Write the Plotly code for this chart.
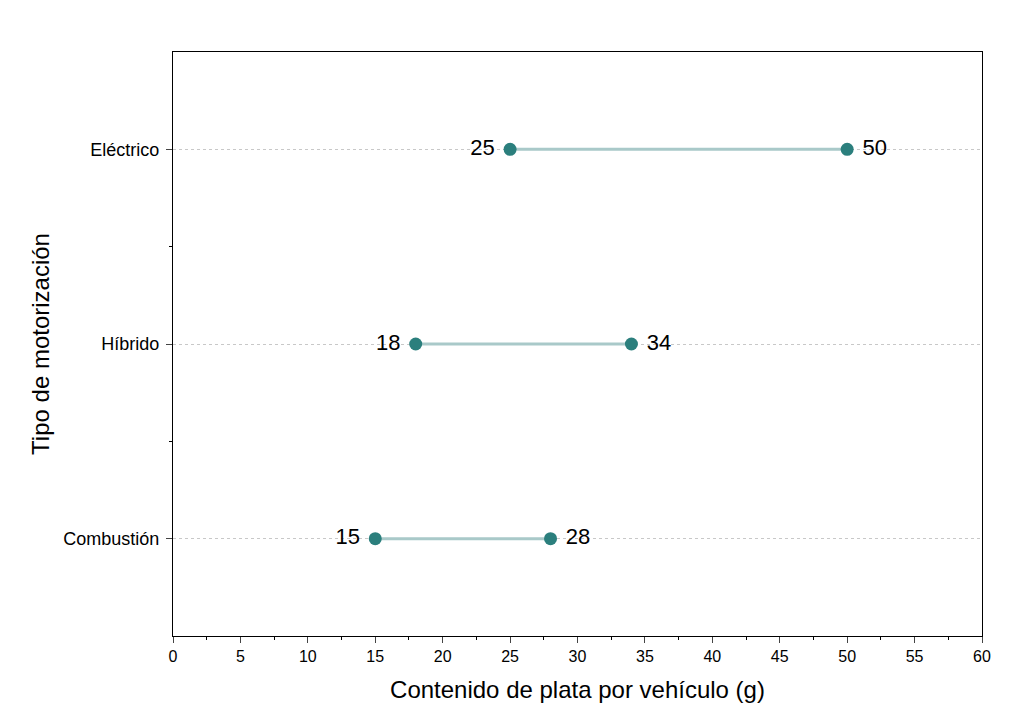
import plotly.graph_objects as go

# data
categorias = ['Combustión', 'Híbrido', 'Eléctrico']
minimo = [15, 18, 25]
maximo = [28, 34, 50]
ypos = list(range(len(categorias)))

linea = '#a9c9c9'
punto = '#2b7f7d'

fig = go.Figure()

# connecting segments
for y, a, b in zip(ypos, minimo, maximo):
    fig.add_trace(go.Scatter(x=[a, b], y=[y, y], mode='lines',
                             line=dict(color=linea, width=3),
                             showlegend=False, hoverinfo='skip'))

fig.add_trace(go.Scatter(x=minimo, y=ypos, mode='markers+text',
                         marker=dict(color=punto, size=13),
                         text=[f'{v} ' for v in minimo], textposition='middle left',
                         textfont=dict(size=22, color='black'), showlegend=False))
fig.add_trace(go.Scatter(x=maximo, y=ypos, mode='markers+text',
                         marker=dict(color=punto, size=13),
                         text=[f' {v}' for v in maximo], textposition='middle right',
                         textfont=dict(size=22, color='black'), showlegend=False))

fig.update_layout(
    width=1024, height=728,
    template='simple_white',
    font=dict(family='Liberation Sans, Arial', color='black'),
    margin=dict(l=165, r=50, t=44, b=100),
    plot_bgcolor='white', paper_bgcolor='white',
)
fig.update_xaxes(range=[0, 60], dtick=5, tick0=0,
                 title=dict(text='Contenido de plata por vehículo (g)', font=dict(size=24), standoff=16),
                 ticks='outside', ticklen=6, tickfont=dict(size=16),
                 showline=True, linecolor='black', linewidth=1.2, mirror=True,
                 showgrid=False, zeroline=False,
                 minor=dict(dtick=2.5, ticklen=3, ticks='outside', tickcolor='black', showgrid=False))
fig.update_yaxes(range=[-0.5, 2.5], tickmode='array', tickvals=ypos, ticktext=categorias,
                 title=dict(text='Tipo de motorización', font=dict(size=24), standoff=6),
                 ticks='outside', ticklen=6, tickfont=dict(size=18), ticklabelstandoff=3,
                 showline=True, linecolor='black', linewidth=1.2, mirror=True,
                 showgrid=True, gridcolor='#c8c8c8', griddash='dot', gridwidth=1,
                 zeroline=False,
                 minor=dict(tickmode='array', tickvals=[0.5, 1.5], ticklen=3, ticks='outside',
                            tickcolor='black', showgrid=False))

fig.write_html('out.html')
